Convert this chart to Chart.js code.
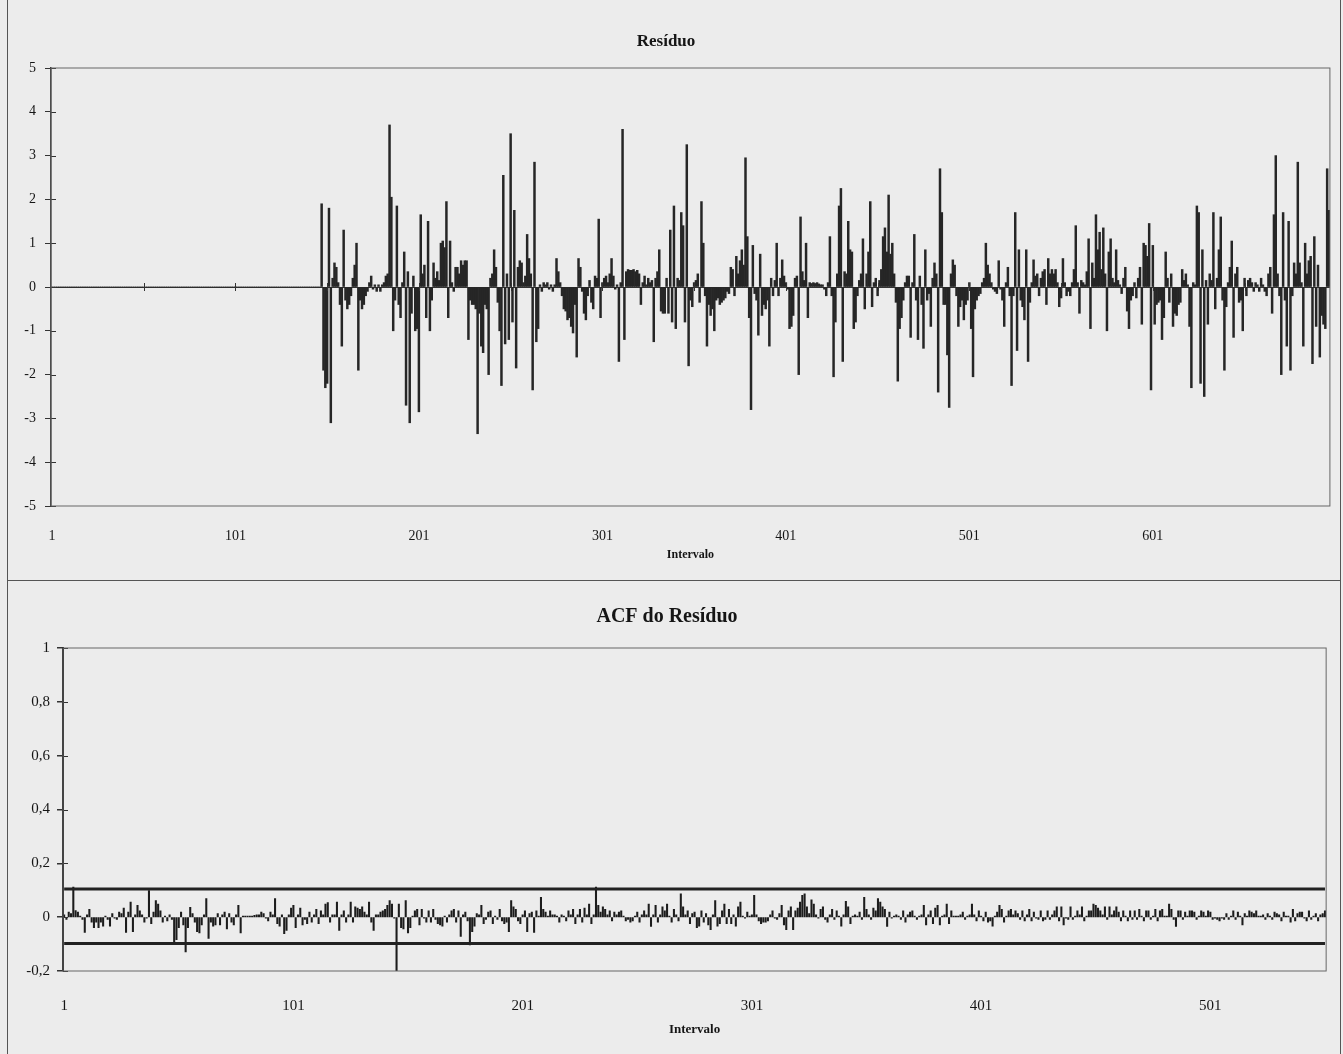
<!DOCTYPE html>
<html>
<head>
<meta charset="utf-8">
<script src="https://cdn.jsdelivr.net/npm/chart.js@4.4.1/dist/chart.umd.min.js"></script>
<style>
  body { margin: 0; background: #ececec; width: 1343px; height: 1054px; overflow: hidden; position: relative; }
  .caixa { position: absolute; left: 7px; width: 1332px; border: 1.5px solid #555; }
  #caixa1 { top: -3px; height: 582px; }
  #caixa2 { top: 580px; height: 480px; }
  canvas { position: absolute; left: 0; }
  #residuo { top: 0; }
  #acf { top: 580px; }
</style>
</head>
<body>
<div class="caixa" id="caixa1"></div>
<div class="caixa" id="caixa2"></div>
<canvas id="residuo" width="1343" height="580"></canvas>
<canvas id="acf" width="1343" height="474"></canvas>
<script>
// Resíduo: intervalos 1..697 (os primeiros 147 são nulos)
const residuo = [
  0, 0, 0, 0, 0, 0, 0, 0, 0, 0, 0, 0, 0, 0, 0, 0, 0, 0, 0, 0, 0,
  0, 0, 0, 0, 0, 0, 0, 0, 0, 0, 0, 0, 0, 0, 0, 0, 0, 0, 0, 0, 0,
  0, 0, 0, 0, 0, 0, 0, 0, 0, 0, 0, 0, 0, 0, 0, 0, 0, 0, 0, 0, 0,
  0, 0, 0, 0, 0, 0, 0, 0, 0, 0, 0, 0, 0, 0, 0, 0, 0, 0, 0, 0, 0,
  0, 0, 0, 0, 0, 0, 0, 0, 0, 0, 0, 0, 0, 0, 0, 0, 0, 0, 0, 0, 0,
  0, 0, 0, 0, 0, 0, 0, 0, 0, 0, 0, 0, 0, 0, 0, 0, 0, 0, 0, 0, 0,
  0, 0, 0, 0, 0, 0, 0, 0, 0, 0, 0, 0, 0, 0, 0, 0, 0, 0, 0, 0, 0,
  // 148
  1.9, -1.9, -2.3, -2.2, 1.8, -3.1, 0.2, 0.55, 0.45, 0.1,
  -0.4, -1.35, 1.3, -0.3, -0.5, -0.4, -0.2, 0.2, 0.5, 1.0,
  -1.9, -0.3, -0.5, -0.4, -0.2, -0.1, 0.1, 0.25, -0.05, 0.05,
  -0.1, 0.05, -0.1, 0.05, 0.1, 0.25, 0.3, 3.7, 2.05, -1.0,
  -0.3, 1.85, -0.4, -0.7, 0.1, 0.8, -2.7, 0.35, -3.1, -0.6,
  0.25, -1.0, -0.95, -2.85, 1.65, 0.3, 0.5, -0.7, 1.5, -1.0,
  -0.3, 0.55, 0.2, 0.35, 0.15, 1.0, 1.05, 0.9, 1.95, -0.7,
  1.05, 0.1, -0.1, 0.45, 0.45, 0.3, 0.6, 0.5, 0.6, 0.6,
  -1.2, -0.3, -0.4, -0.4, -0.5, -3.35, -0.6, -1.35, -1.5, -0.4,
  -0.5, -2.0, 0.2, 0.3, 0.85, 0.45, -0.35, -1.0, -2.25, 2.55,
  // 248
  -1.3, 0.3, -1.2, 3.5, -0.8, 1.75, -1.85, 0.45, 0.6, 0.55,
  0.1, 0.25, 1.2, 0.65, 0.3, -2.35, 2.85, -1.25, -0.95, 0.05,
  -0.1, 0.1, 0.05, 0.1, -0.05, 0.05, -0.1, 0.05, 0.65, 0.35,
  0.1, -0.2, -0.5, -0.55, -0.75, -0.7, -0.9, -1.05, -0.4, -1.6,
  0.65, 0.45, -0.1, -0.6, -0.75, -0.2, 0.15, -0.35, -0.5, 0.25,
  0.2, 1.55, -0.7, 0.1, 0.2, 0.25, 0.1, 0.3, 0.65, 0.25,
  -0.05, 0.05, -1.7, 0.1, 3.6, -1.2, 0.35, 0.4, 0.38, 0.38,
  0.4, 0.35, 0.38, 0.3, -0.4, 0.1, 0.25, 0.05, 0.2, 0.1,
  0.15, -1.25, 0.2, 0.35, 0.85, -0.55, -0.6, -0.6, 0.2, -0.6,
  1.3, -0.8, 1.85, -0.95, 0.2, 0.15, 1.7, 1.4, -0.8, 3.25,
  // 348
  -1.8, -0.3, -0.45, 0.1, 0.15, 0.3, -0.35, 1.95, 1.0, -0.2,
  -1.35, -0.4, -0.65, -0.5, -1.0, -0.3, -0.25, -0.4, -0.35, -0.3,
  -0.25, -0.1, -0.15, 0.45, 0.4, -0.2, 0.7, 0.3, 0.6, 0.85,
  0.5, 2.95, 1.15, -0.7, -2.8, 0.95, -0.15, -0.3, -1.1, 0.75,
  -0.65, -0.4, -0.5, -0.3, -1.35, 0.2, -0.2, 0.15, 1.0, -0.2,
  0.2, 0.62, 0.25, 0.1, -0.05, -0.95, -0.9, -0.65, 0.2, 0.25,
  -2.0, 1.6, 0.35, 0.15, 1.0, -0.7, 0.1, 0.08, 0.1, 0.08,
  0.1, 0.07, 0.05, 0.05, -0.05, -0.2, 0.1, 1.15, -0.2, -2.05,
  -0.8, 0.3, 1.85, 2.25, -1.7, 0.35, 0.3, 1.5, 0.85, 0.8,
  -0.95, -0.8, -0.2, 0.15, 0.3, 1.1, -0.5, 0.3, 0.8, 1.95,
  // 448
  -0.45, 0.1, 0.2, -0.2, 0.15, 0.4, 1.15, 1.35, 0.8, 2.1,
  0.75, 1.0, 0.3, -0.35, -2.15, -0.95, -0.7, -0.3, 0.1, 0.25,
  0.25, -1.15, 0.1, 1.2, -0.3, -1.2, 0.25, -0.4, -1.4, 0.85,
  -0.3, -0.15, -0.9, 0.2, 0.55, 0.3, -2.4, 2.7, 1.7, -0.4,
  -0.4, -1.55, -2.75, 0.3, 0.62, 0.5, -0.2, -0.9, -0.45, -0.3,
  -0.75, -0.4, -0.3, 0.1, -0.95, -2.05, -0.5, -0.3, -0.2, -0.15,
  0.1, 0.2, 1.0, 0.5, 0.3, 0.1, -0.05, -0.1, -0.15, 0.6,
  -0.05, -0.3, -0.9, 0.1, 0.45, -0.2, -2.25, -0.2, 1.7, -1.45,
  0.85, -0.3, -0.45, -0.75, 0.85, -1.7, -0.35, 0.1, 0.62, 0.25,
  0.3, -0.2, 0.2, 0.35, 0.4, -0.4, 0.65, 0.3, 0.4, 0.3,
  // 548
  0.4, 0.1, -0.45, -0.25, 0.65, 0.1, -0.2, -0.1, -0.2, 0.1,
  0.4, 1.4, 0.1, -0.6, 0.15, 0.1, 0.05, 0.35, 1.1, -0.95,
  0.55, 0.2, 1.65, 0.85, 1.25, 0.4, 1.35, 0.3, -1.0, 0.8,
  1.1, 0.2, 0.1, 0.85, 0.15, 0.05, -0.15, 0.2, 0.45, -0.55,
  -0.95, -0.3, -0.2, 0.1, -0.25, 0.2, 0.45, -0.85, 1.0, 0.95,
  0.7, 1.45, -2.35, 0.95, -0.85, -0.4, -0.35, -0.3, -1.2, -0.7,
  0.8, 0.2, -0.35, 0.3, -0.9, -0.6, -0.65, -0.4, -0.35, 0.4,
  0.15, 0.3, 0.05, -0.9, -2.3, 0.1, 0.05, 1.85, 1.7, -2.2,
  0.85, -2.5, 0.15, -0.85, 0.3, 0.15, 1.7, -0.5, 0.2, 0.85,
  1.6, -0.3, -1.9, -0.45, 0.1, 0.45, 1.05, -1.15, 0.3, 0.45,
  // 648
  -0.35, -0.3, -1.0, 0.2, -0.2, 0.15, 0.2, 0.1, -0.1, 0.1,
  0.05, -0.1, 0.2, 0.05, -0.1, -0.2, 0.3, 0.45, -0.6, 1.65,
  3.0, 0.3, -0.2, -2.0, 1.7, -0.3, -1.35, 1.5, -1.9, -0.2,
  0.55, 0.3, 2.85, 0.55, 0.1, -1.35, 1.0, 0.3, 0.6, 0.7,
  -1.75, 1.15, -0.9, 0.5, -1.6, -0.65, -0.85, -0.95, 2.7, 1.75
];

// ACF do resíduo: defasagens 1..551
const acf = [
  0.01, -0.01, 0.02, 0.015, 0.113, 0.026, 0.02, 0.005, -0.01, -0.058,
  0.01, 0.03, -0.02, -0.04, -0.02, -0.04, -0.02, -0.035, 0.005, -0.01,
  -0.035, 0.015, -0.005, -0.01, 0.02, 0.015, 0.035, -0.058, 0.02, 0.057,
  -0.055, 0.01, 0.045, 0.025, 0.01, -0.02, -0.005, 0.1, -0.025, 0.02,
  0.063, 0.05, 0.025, -0.02, 0.005, -0.015, 0.01, -0.01, -0.098, -0.085,
  -0.04, 0.02, -0.03, -0.13, -0.04, 0.038, 0.015, -0.02, -0.055, -0.06,
  -0.03, 0.01, 0.07, -0.08, -0.02, -0.035, -0.03, 0.015, -0.03, 0.01,
  0.02, -0.045, 0.015, -0.02, -0.03, 0.01, 0.045, -0.06, 0.005, 0.005,
  0.005, 0.005, 0.005, 0.008, 0.01, 0.01, 0.02, 0.015, -0.005, -0.015,
  0.02, 0.01, 0.07, -0.025, -0.035, 0.01, -0.063, -0.05, 0.01, 0.035,
  // 101
  0.045, -0.04, 0.01, 0.035, -0.03, -0.01, -0.025, 0.02, -0.02, 0.01,
  0.03, -0.025, 0.025, 0.01, 0.05, 0.055, -0.02, 0.01, 0.01, 0.057,
  -0.05, 0.01, 0.025, -0.02, 0.01, 0.057, -0.02, 0.04, 0.035, 0.03,
  0.04, 0.02, 0.01, 0.057, -0.02, -0.05, 0.01, 0.01, 0.02, 0.025,
  0.03, 0.045, 0.063, 0.05, -0.005, -0.2, 0.05, -0.04, -0.045, 0.063,
  -0.06, -0.04, 0.005, 0.025, 0.03, -0.03, 0.03, -0.005, -0.02, 0.025,
  -0.02, 0.03, -0.01, -0.025, -0.03, -0.035, 0.005, -0.02, 0.01, 0.025,
  0.03, -0.02, 0.025, -0.073, 0.01, 0.02, -0.015, -0.104, -0.055, -0.035,
  0.015, 0.01, 0.045, -0.025, -0.01, 0.02, 0.025, -0.025, 0.005, -0.01,
  0.03, -0.015, -0.025, -0.02, -0.055, 0.063, 0.04, 0.03, -0.015, -0.025,
  // 201
  0.01, 0.025, -0.055, 0.015, 0.02, -0.058, 0.025, 0.005, 0.075, 0.03,
  0.02, 0.005, 0.025, 0.01, 0.01, 0.005, -0.02, 0.01, 0.005, -0.015,
  0.025, 0.01, 0.03, -0.025, 0.01, 0.03, -0.02, 0.035, 0.01, 0.05,
  -0.025, 0.01, 0.113, 0.045, 0.02, 0.04, 0.03, 0.01, 0.025, -0.015,
  0.02, 0.01, 0.02, 0.025, 0.005, -0.015, -0.01, -0.02, -0.015, 0.005,
  0.02, -0.02, 0.01, 0.025, 0.01, 0.05, -0.036, 0.01, 0.045, -0.02,
  0.01, 0.04, 0.025, 0.05, 0.005, -0.02, 0.03, 0.01, -0.015, 0.088,
  0.04, 0.01, 0.025, -0.025, 0.015, 0.02, -0.04, -0.035, 0.025, -0.02,
  0.015, -0.03, -0.048, 0.01, 0.063, -0.035, -0.025, 0.025, 0.05, -0.025,
  0.03, -0.025, 0.01, -0.035, 0.04, 0.057, 0.005, -0.005, 0.02, 0.005,
  // 301
  0.01, 0.082, 0.01, -0.015, -0.025, -0.02, -0.02, -0.015, 0.01, 0.025,
  -0.005, -0.01, 0.015, 0.045, -0.03, -0.048, 0.025, 0.04, -0.048, 0.025,
  0.035, 0.057, 0.082, 0.088, 0.04, 0.015, 0.066, 0.05, 0.01, -0.005,
  0.03, 0.04, -0.01, -0.02, 0.01, 0.03, -0.01, 0.025, 0.005, -0.035,
  0.01, 0.06, 0.04, -0.025, 0.005, 0.01, 0.005, 0.02, -0.01, 0.075,
  0.03, 0.01, -0.01, 0.035, 0.025, 0.07, 0.057, 0.04, 0.03, -0.036,
  0.02, -0.005, 0.005, 0.01, 0.005, -0.01, 0.025, -0.02, 0.01, 0.02,
  0.025, 0.005, -0.01, 0.005, 0.01, 0.045, -0.03, 0.01, 0.025, -0.025,
  0.035, 0.045, -0.03, 0.005, 0.01, 0.05, -0.025, 0.025, 0.005, 0.005,
  0.005, 0.01, 0.02, -0.01, 0.005, 0.01, 0.05, 0.01, -0.015, 0.025,
  // 401
  0.005, -0.015, 0.02, -0.02, -0.015, -0.035, 0.005, 0.02, 0.045, 0.03,
  -0.02, 0.005, 0.025, 0.03, 0.01, 0.025, 0.015, -0.01, 0.025, -0.015,
  0.01, 0.03, -0.015, 0.02, -0.005, -0.01, 0.025, -0.015, -0.01, 0.025,
  -0.01, 0.01, 0.025, 0.04, -0.015, 0.04, -0.03, -0.005, -0.01, 0.04,
  -0.01, 0.005, 0.025, 0.01, 0.04, -0.015, 0.005, 0.025, 0.025, 0.05,
  0.045, 0.035, 0.025, 0.01, 0.04, -0.01, 0.04, 0.01, 0.025, 0.04,
  0.02, -0.015, 0.025, 0.005, -0.015, 0.025, -0.01, 0.025, -0.01, 0.03,
  0.005, -0.015, 0.025, 0.025, -0.01, 0.005, 0.03, -0.015, 0.025, 0.03,
  0.005, 0.005, 0.05, 0.03, -0.01, -0.036, 0.025, 0.025, -0.01, 0.02,
  0.005, 0.025, 0.025, 0.02, -0.01, 0.005, 0.025, 0.02, 0.005, 0.025,
  // 501
  0.02, -0.01, -0.005, -0.01, -0.015, -0.005, -0.01, 0.015, -0.01, 0.005,
  0.025, -0.01, 0.02, 0.005, -0.03, 0.015, 0.005, 0.025, 0.02, 0.015,
  0.025, 0.005, 0.005, 0.01, -0.01, 0.015, 0.005, -0.01, 0.02, 0.015,
  0.01, -0.015, 0.02, 0.005, 0.005, -0.02, 0.03, -0.015, 0.015, 0.02,
  0.02, -0.005, -0.015, 0.025, -0.01, 0.005, 0.015, -0.015, 0.01, 0.015,
  0.025
];

// limites de confiança da ACF
const limiteSuperior = 0.105;
const limiteInferior = -0.098;

const rotulosResiduo = ["1", "101", "201", "301", "401", "501", "601"];
const rotulosAcf = ["1", "101", "201", "301", "401", "501"];

const categoriasResiduo = residuo.map((_, i) => String(i + 1));
const categoriasAcf = acf.map((_, i) => String(i + 1));

const serif = "'Liberation Serif', 'DejaVu Serif', serif";
const corTexto = "#151515";

// marcas cruzando o eixo (estilo Excel) e moldura da área de plotagem
const marcasCruzadas = {
  id: "marcasCruzadas",
  afterDraw(chart, args, opts) {
    const { ctx, chartArea, scales } = chart;
    const x = scales.x, y = scales.y;
    ctx.save();
    ctx.strokeStyle = "#333";
    ctx.lineWidth = 1;
    ctx.beginPath();
    y.ticks.forEach((t) => {
      const py = Math.round(y.getPixelForValue(t.value)) + 0.5;
      ctx.moveTo(chartArea.left, py);
      ctx.lineTo(chartArea.left + 5, py);
    });
    if (opts.cadaX) {
      const y0 = y.getPixelForValue(0);
      for (let i = opts.cadaX; i < chart.data.labels.length; i += opts.cadaX) {
        const px = Math.round(x.getPixelForValue(i)) + 0.5;
        ctx.moveTo(px, y0 - 4);
        ctx.lineTo(px, y0 + 4);
      }
    }
    ctx.stroke();
    ctx.strokeStyle = "#666";
    ctx.strokeRect(chartArea.left, chartArea.top, chartArea.right - chartArea.left, chartArea.bottom - chartArea.top);
    ctx.restore();
  },
};

function linhaZero(ctx) {
  return ctx.tick && ctx.tick.value === 0 ? "#333" : "rgba(0,0,0,0)";
}

new Chart(document.getElementById("residuo"), {
  type: "bar",
  data: {
    labels: categoriasResiduo,
    datasets: [
      {
        data: residuo,
        backgroundColor: "#262626",
        barPercentage: 1,
        categoryPercentage: 1,
      },
    ],
  },
  options: {
    responsive: false,
    animation: false,
    layout: { padding: { right: 11 } },
    plugins: {
      legend: { display: false },
      tooltip: { enabled: false },
      title: {
        display: true,
        text: "Resíduo",
        color: corTexto,
        font: { family: serif, size: 17, weight: "bold" },
        padding: { top: 31, bottom: 16.6 },
      },
      marcasCruzadas: { cadaX: 50 },
    },
    scales: {
      x: {
        grid: { display: false },
        border: { display: false },
        ticks: {
          autoSkip: false,
          maxRotation: 0,
          padding: 14,
          color: corTexto,
          font: { family: serif, size: 14 },
          callback: function (value) {
            const r = this.getLabelForValue(value);
            return rotulosResiduo.includes(r) ? r : "";
          },
        },
        title: {
          display: true,
          text: "Intervalo",
          color: corTexto,
          font: { family: serif, size: 12, weight: "bold" },
          padding: { top: 0, bottom: 18 },
        },
        afterFit: (s) => { s.height = 74; },
      },
      y: {
        min: -5,
        max: 5,
        ticks: {
          stepSize: 1,
          padding: 9,
          color: corTexto,
          font: { family: serif, size: 14 },
        },
        grid: { color: linhaZero, tickColor: "#333", tickLength: 6, lineWidth: 1 },
        border: { color: "#333", width: 1.5 },
        afterFit: (s) => { s.width = 51; },
      },
    },
  },
  plugins: [marcasCruzadas],
});

new Chart(document.getElementById("acf"), {
  type: "bar",
  data: {
    labels: categoriasAcf,
    datasets: [
      {
        data: acf,
        backgroundColor: "#1c1c1c",
        barPercentage: 0.9,
        categoryPercentage: 1,
        order: 2,
      },
      {
        type: "line",
        data: [
          { x: categoriasAcf[0], y: limiteSuperior },
          { x: categoriasAcf[categoriasAcf.length - 1], y: limiteSuperior },
        ],
        borderColor: "#222",
        borderWidth: 3,
        pointRadius: 0,
        order: 1,
      },
      {
        type: "line",
        data: [
          { x: categoriasAcf[0], y: limiteInferior },
          { x: categoriasAcf[categoriasAcf.length - 1], y: limiteInferior },
        ],
        borderColor: "#222",
        borderWidth: 3,
        pointRadius: 0,
        order: 1,
      },
    ],
  },
  options: {
    responsive: false,
    animation: false,
    layout: { padding: { right: 9 } },
    plugins: {
      legend: { display: false },
      tooltip: { enabled: false },
      title: {
        display: true,
        text: "ACF do Resíduo",
        color: corTexto,
        font: { family: serif, size: 20, weight: "bold" },
        padding: { top: 25, bottom: 19 },
      },
      marcasCruzadas: {},
    },
    scales: {
      x: {
        grid: { display: false },
        border: { display: false },
        ticks: {
          autoSkip: false,
          maxRotation: 0,
          padding: 18,
          color: corTexto,
          font: { family: serif, size: 15 },
          callback: function (value) {
            const r = this.getLabelForValue(value);
            return rotulosAcf.includes(r) ? r : "";
          },
        },
        title: {
          display: true,
          text: "Intervalo",
          color: corTexto,
          font: { family: serif, size: 13, weight: "bold" },
          padding: { top: 0, bottom: 16.5 },
        },
        afterFit: (s) => { s.height = 83; },
      },
      y: {
        min: -0.2,
        max: 1,
        ticks: {
          stepSize: 0.2,
          padding: 7,
          color: corTexto,
          font: { family: serif, size: 15 },
          callback: (v) => String(Math.round(v * 10) / 10).replace(".", ","),
        },
        grid: { color: linhaZero, tickColor: "#333", tickLength: 6, lineWidth: 1.5 },
        border: { color: "#222", width: 2 },
        afterFit: (s) => { s.width = 63; },
      },
    },
  },
  plugins: [marcasCruzadas],
});
</script>
</body>
</html>
